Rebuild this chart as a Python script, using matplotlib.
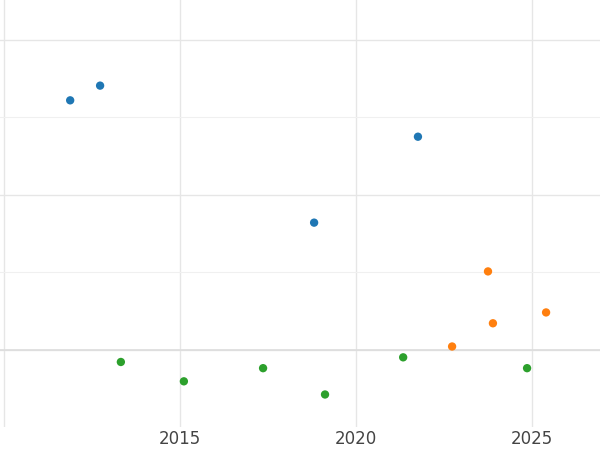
import matplotlib
matplotlib.use("Agg")
import matplotlib.pyplot as plt

blue_x = [2011.88, 2012.73, 2018.81, 2021.76]
blue_y = [3.22, 3.41, 1.64, 2.75]
orange_x = [2022.73, 2023.75, 2023.89, 2025.40]
orange_y = [0.04, 1.01, 0.34, 0.48]
green_x = [2013.32, 2015.11, 2017.36, 2019.12, 2021.34, 2024.86]
green_y = [-0.16, -0.41, -0.24, -0.58, -0.10, -0.24]
xticks = [2015, 2020, 2025]

fig = plt.figure(figsize=(6, 4.5), dpi=100)
ax = fig.add_axes([0, 1 - 427/450, 1, 427/450])
ax.set_xlim(2010 - 4/35.2, 2010 + 596/35.2)
ax.set_ylim(-1, 350/77.5)
for s in ax.spines.values():
    s.set_visible(False)
ax.set_xticks([2010] + xticks)
ax.set_xticklabels([""] + [str(t) for t in xticks])
ax.set_yticks([0, 2, 4])
ax.set_yticks([1, 3], minor=True)
ax.set_yticklabels([])
ax.tick_params(which="both", length=0, labelsize=12, labelcolor="#444444", pad=2)
ax.grid(True, which="major", color="#e6e6e6", linewidth=1)
ax.grid(True, which="minor", axis="y", color="#f0f0f0", linewidth=0.8)
ax.axhline(0, color="#dddddd", linewidth=1.2, zorder=1)
ax.set_axisbelow(True)
kw = dict(s=36, zorder=3, edgecolor="none")
ax.scatter(blue_x, blue_y, color="#1f77b4", **kw)
ax.scatter(orange_x, orange_y, color="#ff7f0e", **kw)
ax.scatter(green_x, green_y, color="#2ca02c", **kw)
fig.savefig("out.png", dpi=100)
